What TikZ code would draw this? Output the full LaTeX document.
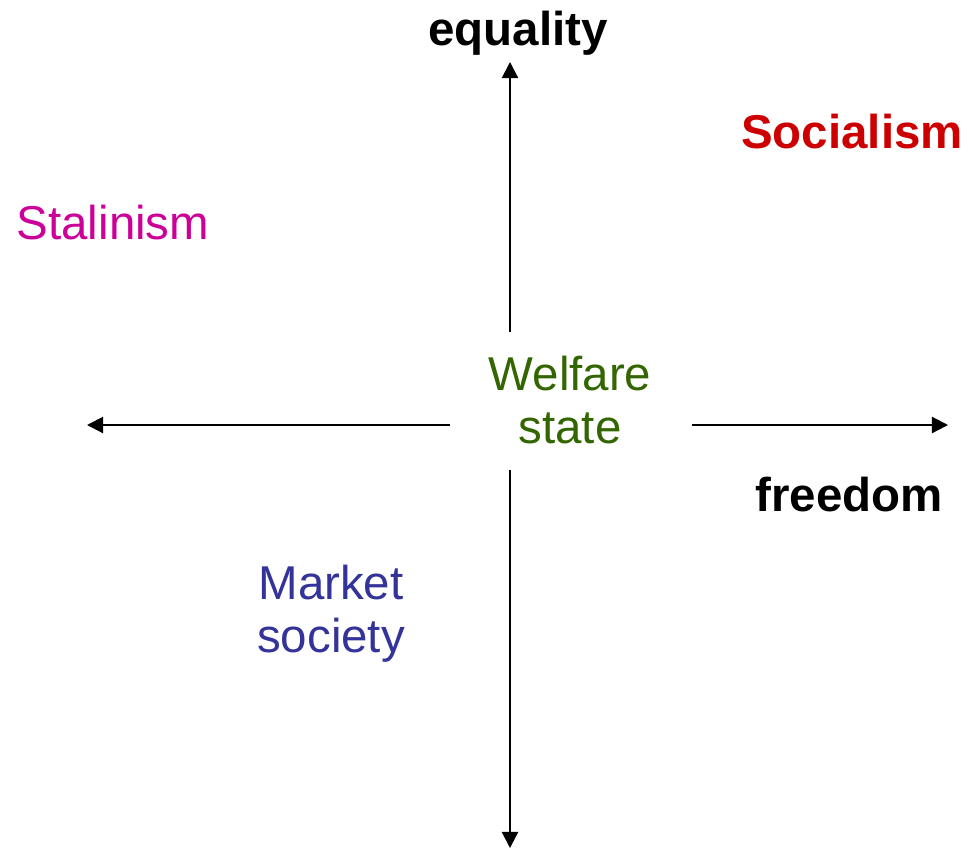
\documentclass[tikz,border=0pt]{standalone}
\usepackage{fontspec}
\setmainfont{Liberation Sans}
\usepackage{xcolor}
\usetikzlibrary{arrows.meta}
\definecolor{ideo-red}{RGB}{204, 0, 0}
\definecolor{ideo-magenta}{RGB}{204, 0, 153}
\definecolor{ideo-green}{RGB}{51, 102, 0}
\definecolor{ideo-blue}{RGB}{51, 51, 153}
\tikzset{
  axis/.style = {line width=0.6pt, -{Triangle[length=4.6pt, width=4.6pt]}},
  label/.style = {inner sep=0pt, anchor=base, align=center,
    font=\fontsize{13.5pt}{14.8pt}\selectfont},
}

\begin{document}
\begin{tikzpicture}[x=0.01cm, y=-0.01cm]
          \useasboundingbox (0, 0) rectangle (968, 848);
          \coordinate (up-start) at (510, 332);
          \coordinate (up-end) at (510, 62);
          \coordinate (down-start) at (510, 470);
          \coordinate (down-end) at (510, 848);
          \coordinate (left-start) at (450, 425);
          \coordinate (left-end) at (87, 425);
          \coordinate (right-start) at (692, 425);
          \coordinate (right-end) at (948, 425);

          \draw[axis] (up-start) -- (up-end);
          \draw[axis] (down-start) -- (down-end);
          \draw[axis] (left-start) -- (left-end);
          \draw[axis] (right-start) -- (right-end);

          \node[label, font=\fontsize{13.5pt}{14.8pt}\selectfont\bfseries] (equality) at (518, 45) {equality};
          \node[label, font=\fontsize{13.5pt}{14.8pt}\selectfont\bfseries] (freedom) at (849, 511) {freedom};
          \node[label, font=\fontsize{13.5pt}{14.8pt}\selectfont\bfseries, ideo-red] (socialism) at (852, 148) {Socialism};
          \node[label, ideo-magenta] (stalinism) at (113, 239) {Stalinism};
          \node[label, ideo-green] (welfare) at (570, 443) {Welfare\\state};
          \node[label, ideo-blue] (market) at (331, 652) {Market\\society};
        \end{tikzpicture}
\end{document}
